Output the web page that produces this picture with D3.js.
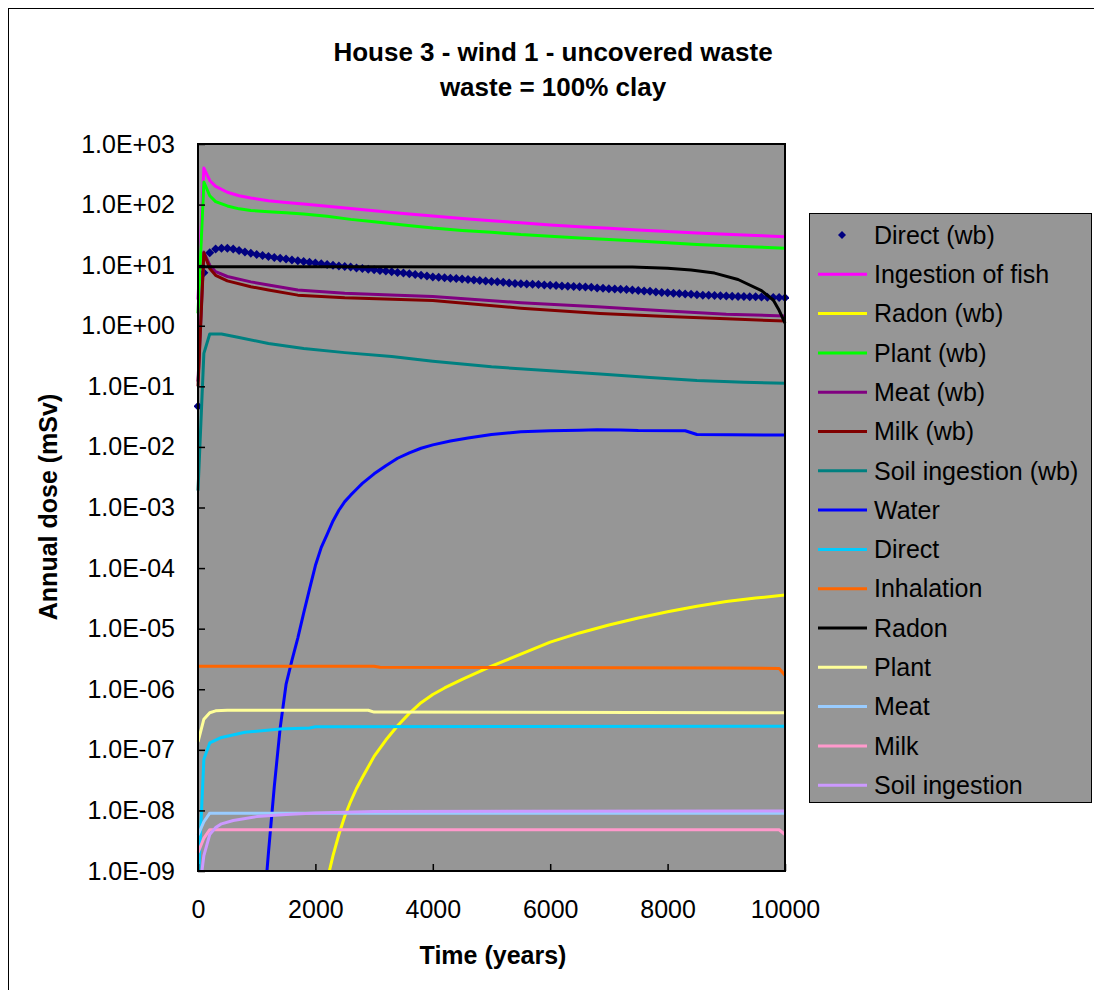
<!DOCTYPE html>
<html>
<head>
<meta charset="utf-8">
<script src="https://cdn.jsdelivr.net/npm/d3@7"></script>
<style>
  html, body { margin: 0; padding: 0; background: #fff; }
  svg { display: block; font-family: "Liberation Sans", Arial, sans-serif; }
</style>
</head>
<body>
<svg id="chart" width="1094" height="990"></svg>
<script>
// ---- Data: annual dose (mSv) against time (years) ----
const xTicks = [0, 2000, 4000, 6000, 8000, 10000];
const yTicks = [1e3, 1e2, 1e1, 1e0, 1e-1, 1e-2, 1e-3, 1e-4, 1e-5, 1e-6, 1e-7, 1e-8, 1e-9];
const yTickLabels = ["1.0E+03", "1.0E+02", "1.0E+01", "1.0E+00", "1.0E-01", "1.0E-02",
  "1.0E-03", "1.0E-04", "1.0E-05", "1.0E-06", "1.0E-07", "1.0E-08", "1.0E-09"];

const seriesNames = ["Direct (wb)", "Ingestion of fish", "Radon (wb)", "Plant (wb)", "Meat (wb)",
  "Milk (wb)", "Soil ingestion (wb)", "Water", "Direct", "Inhalation", "Radon", "Plant",
  "Meat", "Milk", "Soil ingestion"];

// Direct (wb): one value every 100 years, 0 .. 10000
const directWbYears = d3.range(0, 10001, 100);
const directWbValues = [
  0.047, 7.5, 16, 18.5, 19, 19, 18.5, 17.5, 16.5, 15.8,
  15, 14.4, 13.9, 13.4, 13.0, 12.6, 12.2, 11.8, 11.5, 11.2,
  10.9, 10.6, 10.3, 10.0, 9.7, 9.5, 9.3, 9.0, 8.8, 8.6,
  8.4, 8.2, 8.0, 7.8, 7.6, 7.4, 7.2, 7.0, 6.8, 6.6,
  6.4, 6.3, 6.2, 6.1, 6.0, 5.9, 5.8, 5.7, 5.6, 5.5,
  5.4, 5.3, 5.2, 5.1, 5.0, 4.95, 4.9, 4.85, 4.8, 4.7,
  4.65, 4.6, 4.55, 4.5, 4.45, 4.4, 4.35, 4.3, 4.2, 4.15,
  4.1, 4.05, 4.0, 3.95, 3.9, 3.8, 3.75, 3.7, 3.6, 3.55,
  3.5, 3.45, 3.4, 3.35, 3.3, 3.25, 3.2, 3.18, 3.15, 3.12,
  3.1, 3.08, 3.05, 3.03, 3.0, 3.0, 2.98, 2.96, 2.94, 2.92,
  2.9
];

// Line series as [year, dose] pairs
const fish = [[0,2.7],[100,400],[200,250],[300,200],[500,160],[700,140],[900,128],[1200,116],
  [1500,108],[1800,102],[2200,94],[2600,86],[3000,79],[3500,71],[4000,65],[4500,59],[5000,54],
  [5500,50],[6000,46],[6500,43],[7000,40.5],[7500,38],[8000,36],[8500,34],[9000,32.5],
  [9500,31],[10000,29.5]];
const radonWb = [[2100,1e-10],[2200,7e-10],[2300,1.8e-9],[2400,4.0e-9],[2500,8e-9],[2600,1.4e-8],
  [2700,2.3e-8],[2800,3.5e-8],[3000,7.8e-8],[3200,1.45e-7],[3400,2.5e-7],[3600,4.0e-7],
  [3800,6.0e-7],[4000,8.2e-7],[4200,1.05e-6],[4500,1.45e-6],[5000,2.4e-6],[5500,3.8e-6],
  [6000,6.0e-6],[6500,8.5e-6],[7000,1.15e-5],[7500,1.5e-5],[8000,1.9e-5],[8500,2.35e-5],
  [9000,2.8e-5],[9500,3.2e-5],[10000,3.6e-5]];
const plantWb = [[0,1.6],[100,236],[200,140],[300,112],[500,95],[700,85],[900,80],[1200,76],
  [1500,73],[1800,70],[2200,64],[2600,57],[3000,52],[3500,46],[4000,41],[4500,37.5],[5000,35],
  [5500,32],[6000,30],[6500,28],[7000,26.5],[7500,25],[8000,23.5],[8500,22],[9000,21],
  [9500,20],[10000,19]];
const meatWb = [[0,0.12],[100,16.5],[200,10],[300,7.8],[500,6.5],[900,5.3],[1200,4.7],[1700,3.9],
  [2500,3.45],[3400,3.2],[4000,3.05],[5500,2.4],[6800,2.05],[8000,1.75],[9000,1.55],[10000,1.45]];
const milkWb = [[0,0.1],[100,16],[200,8.8],[300,6.8],[500,5.5],[900,4.4],[1200,3.9],[1700,3.2],
  [2500,2.9],[4000,2.6],[5500,1.95],[6850,1.6],[8000,1.42],[9000,1.3],[10000,1.2]];
const soilWb = [[0,0.0019],[100,0.35],[200,0.73],[400,0.73],[700,0.64],[1200,0.51],[1800,0.42],
  [2500,0.36],[3300,0.31],[4000,0.26],[5000,0.21],[6000,0.18],[6850,0.16],[7700,0.14],
  [8500,0.125],[9300,0.117],[10000,0.112]];
const water = [[1000,3e-12],[1100,1.3e-10],[1200,2.0e-9],[1300,2.5e-8],[1400,2.3e-7],[1500,1.2e-6],
  [1600,3.0e-6],[1700,7.0e-6],[1800,1.8e-5],[1900,4.5e-5],[2000,1.1e-4],[2100,2.2e-4],
  [2200,3.6e-4],[2300,6.0e-4],[2400,9.0e-4],[2500,1.25e-3],[2600,1.6e-3],[2700,2.0e-3],
  [2800,2.5e-3],[2900,3.0e-3],[3000,3.6e-3],[3200,4.9e-3],[3400,6.5e-3],[3600,8.0e-3],
  [3800,9.5e-3],[4000,0.0108],[4300,0.0125],[4600,0.014],[5000,0.016],[5500,0.0178],
  [6000,0.0185],[6500,0.0188],[6800,0.0192],[7200,0.019],[7500,0.0186],[8300,0.0185],
  [8500,0.016],[10000,0.0157]];
const direct = [[0,5e-10],[100,7e-8],[200,1.3e-7],[400,1.6e-7],[800,1.95e-7],[1400,2.2e-7],
  [1900,2.3e-7],[2000,2.4e-7],[10000,2.45e-7]];
const inhalation = [[0,2.4e-6],[3000,2.4e-6],[3100,2.3e-6],[9000,2.25e-6],[9900,2.2e-6],[10000,1.7e-6]];
const radon = [[0,9.4],[3000,9.4],[7400,9.3],[8000,8.9],[8400,8.3],[8800,7.4],[9200,5.8],
  [9600,3.8],[9800,2.66],[9900,1.8],[10000,1.1]];
const plant = [[0,1.35e-7],[100,3.2e-7],[200,4.1e-7],[300,4.4e-7],[500,4.5e-7],[2900,4.5e-7],
  [3000,4.2e-7],[10000,4.1e-7]];
const meat = [[0,3.9e-9],[100,6.5e-9],[200,9.0e-9],[10000,9.0e-9]];
const milk = [[0,2.0e-9],[100,3.5e-9],[200,4.8e-9],[9900,4.8e-9],[10000,4.0e-9]];
const soil = [[0,3e-10],[100,1.8e-9],[200,4.0e-9],[300,5.2e-9],[400,6.0e-9],[600,6.8e-9],
  [1000,7.9e-9],[1500,8.6e-9],[2000,9.1e-9],[3000,9.6e-9],[10000,9.8e-9]];

const lineSeries = [fish, radonWb, plantWb, meatWb, milkWb, soilWb, water, direct,
  inhalation, radon, plant, meat, milk, soil];

const seriesColors = ["#000080", "#FF00FF", "#FFFF00", "#00FF00", "#800080", "#800000",
  "#008080", "#0000FF", "#00CCFF", "#FF6600", "#000000", "#FFFF99", "#99CCFF", "#FF99CC", "#CC99FF"];

// ---- Layout ----
const svg = d3.select("#chart");
const plot = { left: 198, right: 785, top: 144, bottom: 871 };
const plotBg = "#969696";
const font = "'Liberation Sans', Arial, sans-serif";

const x = d3.scaleLinear().domain([0, 10000]).range([plot.left, plot.right]);
const y = d3.scaleLog().domain([1e-9, 1e3]).range([plot.bottom, plot.top]);

// Outer chart frame
svg.append("rect")
  .attr("x", 8.5).attr("y", 8.5).attr("width", 1100).attr("height", 1000)
  .attr("fill", "#fff").attr("stroke", "#000").attr("stroke-width", 1);

// Title
const title = svg.append("text")
  .attr("text-anchor", "middle").attr("font-weight", "bold").attr("font-size", 26);
title.append("tspan").attr("x", 553).attr("y", 61).text("House 3 - wind 1 - uncovered waste");
title.append("tspan").attr("x", 553).attr("y", 96).text("waste = 100% clay");

// Plot area
svg.append("rect")
  .attr("x", plot.left).attr("y", plot.top)
  .attr("width", plot.right - plot.left).attr("height", plot.bottom - plot.top)
  .attr("fill", plotBg);

svg.append("clipPath").attr("id", "plot-clip")
  .append("rect")
  .attr("x", plot.left - 4).attr("y", plot.top)
  .attr("width", plot.right - plot.left + 8).attr("height", plot.bottom - plot.top + 1);

const series = svg.append("g").attr("clip-path", "url(#plot-clip)");

const diamond = "M0,-4.5L4.5,0L0,4.5L-4.5,0Z";

// Direct (wb): markers only
series.append("g")
  .selectAll("path")
  .data(directWbYears.map((t, i) => [t, directWbValues[i]]))
  .join("path")
  .attr("d", diamond)
  .attr("transform", d => `translate(${x(d[0])},${y(d[1])})`)
  .attr("fill", seriesColors[0]);

const line = d3.line().x(d => x(d[0])).y(d => y(d[1]));

lineSeries.forEach((data, i) => {
  series.append("path")
    .datum(data)
    .attr("d", line)
    .attr("fill", "none")
    .attr("stroke", seriesColors[i + 1])
    .attr("stroke-width", 3)
    .attr("stroke-linejoin", "round");
});

// Plot border
svg.append("rect")
  .attr("x", plot.left).attr("y", plot.top)
  .attr("width", plot.right - plot.left).attr("height", plot.bottom - plot.top)
  .attr("fill", "none").attr("stroke", "#000").attr("stroke-width", 2);

// Axes
const yAxis = d3.axisLeft(y)
  .tickValues(yTicks)
  .tickFormat((d, i) => yTickLabels[i])
  .tickSizeInner(-7).tickSizeOuter(0).tickPadding(23);
const gy = svg.append("g").attr("transform", `translate(${plot.left},0)`).call(yAxis);

const xAxis = d3.axisBottom(x)
  .tickValues(xTicks)
  .tickFormat(d3.format("d"))
  .tickSizeInner(-7).tickSizeOuter(0).tickPadding(29);
const gx = svg.append("g").attr("transform", `translate(0,${plot.bottom})`).call(xAxis);

[gx, gy].forEach(g => {
  g.select(".domain").remove();
  g.selectAll(".tick line").attr("stroke", "#000").attr("stroke-width", 1.5);
  g.selectAll(".tick text").attr("fill", "#000").attr("font-size", 25).attr("font-family", font);
});

// Axis titles
svg.append("text")
  .attr("x", 493).attr("y", 964)
  .attr("text-anchor", "middle").attr("font-weight", "bold").attr("font-size", 25)
  .text("Time (years)");

svg.append("text")
  .attr("transform", "translate(48,507) rotate(-90)")
  .attr("dy", "0.35em")
  .attr("text-anchor", "middle").attr("font-weight", "bold").attr("font-size", 25)
  .text("Annual dose (mSv)");

// Legend
const legend = { left: 809, top: 213, right: 1091, bottom: 802, firstRow: 235, rowStep: 39.3 };
svg.append("rect")
  .attr("x", legend.left + 0.5).attr("y", legend.top + 0.5)
  .attr("width", legend.right - legend.left).attr("height", legend.bottom - legend.top)
  .attr("fill", plotBg).attr("stroke", "#000").attr("stroke-width", 1);

const rows = svg.append("g").selectAll("g")
  .data(seriesNames)
  .join("g")
  .attr("transform", (d, i) => `translate(0,${legend.firstRow + i * legend.rowStep})`);

rows.each(function (d, i) {
  const g = d3.select(this);
  if (i === 0) {
    g.append("path").attr("d", "M0,-4L4,0L0,4L-4,0Z")
      .attr("transform", "translate(842,0)").attr("fill", seriesColors[0]);
  } else {
    g.append("line").attr("x1", 818).attr("x2", 867).attr("y1", 0).attr("y2", 0)
      .attr("stroke", seriesColors[i]).attr("stroke-width", 3);
  }
  g.append("text").attr("x", 874).attr("dy", "0.35em")
    .attr("font-size", 25).attr("fill", "#000").text(d);
});
</script>
</body>
</html>
